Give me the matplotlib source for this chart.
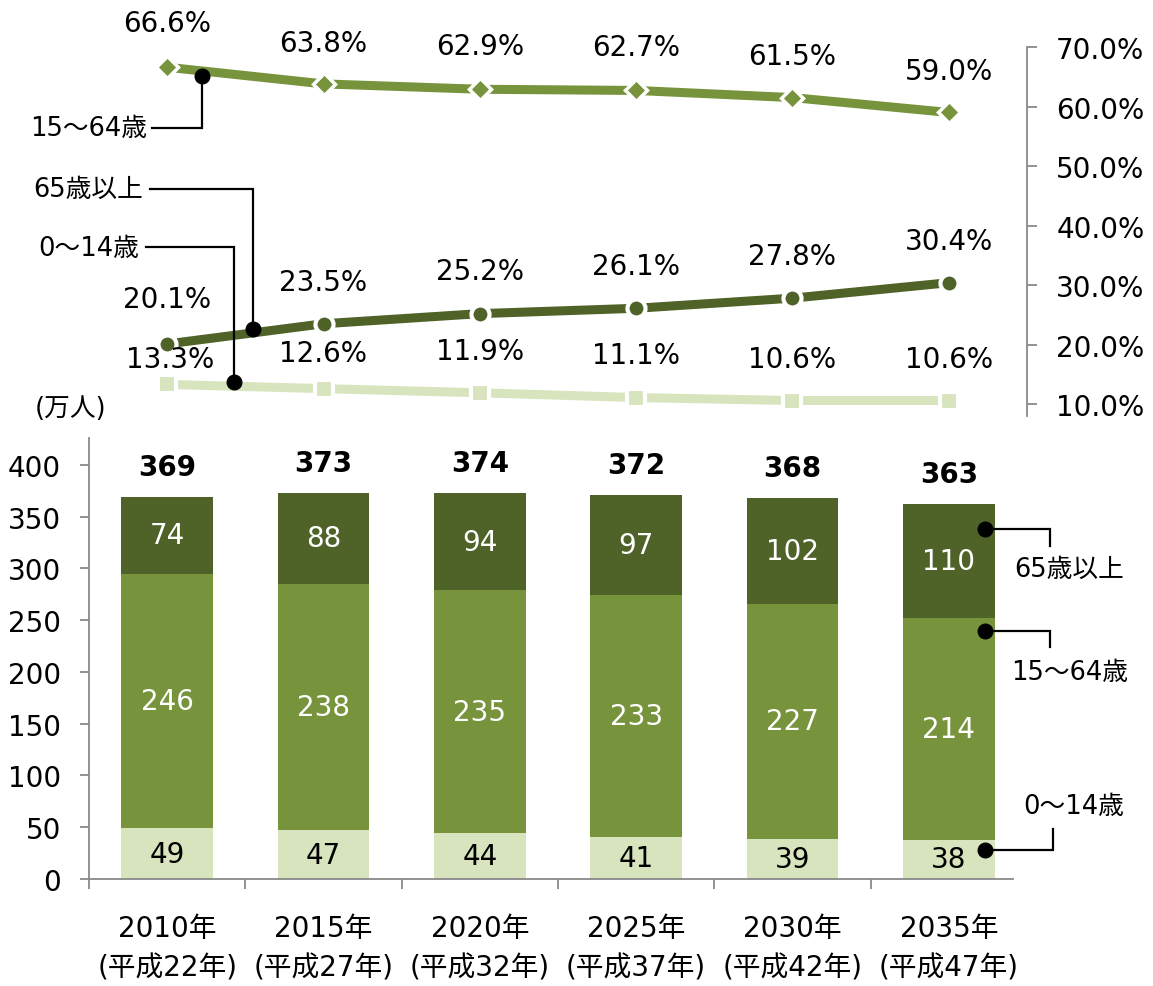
import matplotlib
matplotlib.use('Agg')
import matplotlib.pyplot as plt
import numpy as np

plt.rcParams['font.family'] = ['DejaVu Sans', 'Noto Sans CJK JP']

# ---------------- data ----------------
categories = ['2010年\n(平成22年)', '2015年\n(平成27年)', '2020年\n(平成32年)',
              '2025年\n(平成37年)', '2030年\n(平成42年)', '2035年\n(平成47年)']
pct_1564 = [66.6, 63.8, 62.9, 62.7, 61.5, 59.0]
pct_65 = [20.1, 23.5, 25.2, 26.1, 27.8, 30.4]
pct_014 = [13.3, 12.6, 11.9, 11.1, 10.6, 10.6]
pop_014 = [49, 47, 44, 41, 39, 38]
pop_1564 = [246, 238, 235, 233, 227, 214]
pop_65 = [74, 88, 94, 97, 102, 110]
totals = [369, 373, 374, 372, 368, 363]
pct_ticks = [10, 20, 30, 40, 50, 60, 70]
pop_ticks = [0, 50, 100, 150, 200, 250, 300, 350, 400]

# ---------------- style ----------------
DARK = '#4F6228'
MID = '#77933C'
LIGHT = '#D7E4BD'
GRAY = '#898989'
FS = 20      # numbers / ticks
FSC = 18.5   # callout labels

W, H = 1153, 987
fig = plt.figure(figsize=(W / 100, H / 100), dpi=100)


def rect(left, top, right, bottom):
    return [left / W, 1 - bottom / H, (right - left) / W, (bottom - top) / H]


axb = fig.add_axes(rect(89, 439, 1027, 880))
axt = fig.add_axes(rect(89, 48, 1027, 417))

x = np.arange(len(categories))

# ---------------- bar chart ----------------
b014 = np.array(pop_014)
b1564 = np.array(pop_1564)
b65 = np.array(pop_65)
bw = 0.585
axb.bar(x, b014, width=bw, color=LIGHT, zorder=2)
axb.bar(x, b1564, width=bw, bottom=b014, color=MID, zorder=2)
axb.bar(x, b65, width=bw, bottom=b014 + b1564, color=DARK, zorder=2)

for i in x:
    axb.text(i, b014[i] / 2, str(pop_014[i]), ha='center', va='center', fontsize=FS, color='black')
    axb.text(i, b014[i] + b1564[i] / 2, str(pop_1564[i]), ha='center', va='center', fontsize=FS, color='white')
    axb.text(i, b014[i] + b1564[i] + b65[i] / 2, str(pop_65[i]), ha='center', va='center', fontsize=FS, color='white')
    top = b014[i] + b1564[i] + b65[i]
    axb.annotate(str(totals[i]), (i, top), xytext=(0, 30), textcoords='offset pixels',
                 ha='center', va='center', fontsize=FS, fontweight='bold')

axb.set_xlim(-0.5, 5.5)
axb.set_ylim(0, 426)
for s in ['top', 'right']:
    axb.spines[s].set_visible(False)
for s in ['left', 'bottom']:
    axb.spines[s].set_color(GRAY)
    axb.spines[s].set_linewidth(1.3)
axb.spines['bottom'].set_bounds(-0.5, 5.41)
axb.set_yticks(pop_ticks)
axb.tick_params(axis='y', direction='out', length=6.5, width=1.3, color=GRAY, labelsize=FS, pad=13.5)
axb.set_xticks(np.arange(-0.5, 5.0, 1.0))
axb.set_xticklabels([])
axb.tick_params(axis='x', which='major', direction='out', length=7, width=1.3, color=GRAY)
axb.set_xticks(x, minor=True)
axb.set_xticklabels(categories, minor=True)
axb.tick_params(axis='x', which='minor', length=0, pad=25, labelsize=FS)
for lbl in axb.get_xticklabels(minor=True):
    lbl.set_linespacing(1.55)

fig.text(71 / W, 1 - 409 / H, '(万人)', ha='center', va='center', fontsize=FSC)

# ---------------- line chart ----------------
axt.set_xlim(-0.5, 5.5)
axt.set_ylim(8, 70)
axt.plot(x, pct_014, color=LIGHT, lw=6.5, marker='s', ms=13, mfc=LIGHT, mec='white', mew=3,
         solid_capstyle='butt', zorder=3)
axt.plot(x, pct_65, color=DARK, lw=6.5, marker='o', ms=13, mfc=DARK, mec='white', mew=3,
         solid_capstyle='butt', zorder=3)
axt.plot(x, pct_1564, color=MID, lw=6.5, marker='D', ms=11, mfc=MID, mec='white', mew=2.5,
         solid_capstyle='butt', zorder=3)

lab_off_1564 = [44, 41, 43, 43, 42, 41]
lab_off_65 = [45, 42, 43, 42, 42, 42]
lab_off_014 = [25, 36, 42, 43, 42, 42]
for i in x:
    axt.annotate(f'{pct_1564[i]:.1f}%', (i, pct_1564[i]), xytext=(0, lab_off_1564[i]),
                 textcoords='offset pixels', ha='center', va='center', fontsize=FS)
    axt.annotate(f'{pct_65[i]:.1f}%', (i, pct_65[i]), xytext=(0, lab_off_65[i]),
                 textcoords='offset pixels', ha='center', va='center', fontsize=FS)
    axt.annotate(f'{pct_014[i]:.1f}%', (i, pct_014[i]), xytext=(3 if i == 0 else 0, lab_off_014[i]),
                 textcoords='offset pixels', ha='center', va='center', fontsize=FS)

for s in ['top', 'left', 'bottom']:
    axt.spines[s].set_visible(False)
axt.spines['right'].set_color(GRAY)
axt.spines['right'].set_linewidth(1.3)
axt.yaxis.tick_right()
axt.set_yticks(pct_ticks)
axt.set_yticklabels([f'{v:.1f}%' for v in pct_ticks])
axt.tick_params(axis='y', direction='out', length=7, width=1.3, color=GRAY, labelsize=FS, pad=14)
axt.set_xticks([])
axt.patch.set_alpha(0)


# ---------------- callouts ----------------
def callout(ax, xd, yd, dot_dy, path, text, text_dx, text_dy, ha):
    """dot anchored at data (xd, yd); path = list of (dx, dy) pixel steps (y down)."""
    px, py = ax.transData.transform((xd, yd))
    py -= dot_dy
    pts = [(px, py)]
    for dx, dy in path:
        lx, ly = pts[-1]
        pts.append((lx + dx, ly - dy))
    inv = ax.transData.inverted()
    dpts = inv.transform(pts)
    ax.plot(dpts[:, 0], dpts[:, 1], color='black', lw=1.6, clip_on=False, zorder=5,
            solid_joinstyle='miter')
    ax.plot([dpts[0, 0]], [dpts[0, 1]], 'o', color='black', ms=10.5, clip_on=False, zorder=6)
    ex, ey = pts[-1]
    tx, ty = inv.transform((ex + text_dx, ey - text_dy))
    ax.text(tx, ty, text, ha=ha, va='center', fontsize=FSC, clip_on=False)


# top chart callouts
xf = 0.225
callout(axt, xf, np.interp(xf, x, pct_1564), 5, [(0, 52), (-50, 0)], '15～64歳', -5, 0, 'right')
xf = 0.549
callout(axt, xf, np.interp(xf, x, pct_65), -4, [(0, -140), (-103, 0)], '65歳以上', -7, 0, 'right')
xf = 0.4275
callout(axt, xf, np.interp(xf, x, pct_014), -4, [(0, -135), (-88, 0)], '0～14歳', -7, 1, 'right')

# bar chart callouts
last = len(categories) - 1
xb = last + 0.23
callout(axb, xb, b014[last] + b1564[last] + b65[last] * 0.78, 0, [(65, 0), (0, 17)],
        '65歳以上', 19, 23, 'center')
callout(axb, xb, b014[last] + b1564[last] * 0.94, 0, [(65, 0), (0, 16)],
        '15～64歳', 20, 25, 'center')
callout(axb, xb, b014[last] * 0.74, 0, [(68, 0), (0, -21)],
        '0～14歳', 21, -23, 'center')

fig.savefig('out.png', dpi=100)
